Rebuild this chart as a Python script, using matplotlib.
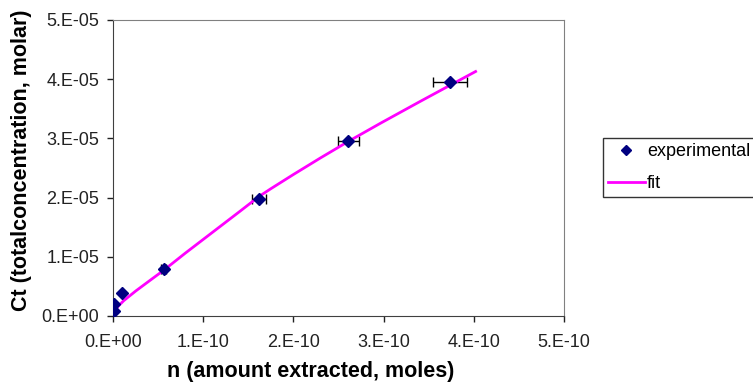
import matplotlib
matplotlib.use("Agg")
import matplotlib.pyplot as plt
import numpy as np

plt.rcParams['font.family'] = ['Liberation Sans', 'DejaVu Sans']

# experimental points
n_exp = [0.01e-10, 0.01e-10, 0.10e-10, 0.56e-10, 1.62e-10, 2.61e-10, 3.74e-10]
ct_exp = [0.08e-5, 0.20e-5, 0.39e-5, 0.79e-5, 1.98e-5, 2.96e-5, 3.95e-5]
n_err = [0, 0, 0, 0.03e-10, 0.08e-10, 0.12e-10, 0.19e-10]

# fitted curve
n_fit = [0, 0.02e-10, 0.06e-10, 0.12e-10, 0.25e-10, 0.40e-10, 0.56e-10, 0.80e-10,
         1.10e-10, 1.40e-10, 1.62e-10, 1.75e-10, 2.00e-10, 2.30e-10, 2.61e-10,
         2.97e-10, 3.40e-10, 3.74e-10, 4.02e-10]
ct_fit = [0, 0.08e-5, 0.17e-5, 0.26e-5, 0.42e-5, 0.59e-5, 0.77e-5, 1.06e-5,
          1.41e-5, 1.76e-5, 2.02e-5, 2.15e-5, 2.39e-5, 2.67e-5, 2.95e-5,
          3.26e-5, 3.62e-5, 3.90e-5, 4.13e-5]

x_ticks = [0, 1e-10, 2e-10, 3e-10, 4e-10, 5e-10]
x_labels = ["0.E+00", "1.E-10", "2.E-10", "3.E-10", "4.E-10", "5.E-10"]
y_ticks = [0, 1e-5, 2e-5, 3e-5, 4e-5, 5e-5]
y_labels = ["0.E+00", "1.E-05", "2.E-05", "3.E-05", "4.E-05", "5.E-05"]

W, H = 753, 382
fig = plt.figure(figsize=(W / 100, H / 100), dpi=100)
ax = fig.add_axes([113 / W, 1 - 316 / H, (564 - 113) / W, (316 - 20) / H])

ax.errorbar(n_exp, ct_exp, xerr=n_err, fmt='none', ecolor='black',
            elinewidth=1, capsize=3.5, capthick=1, zorder=2)
ax.plot(n_fit, ct_fit, color='#FF00FF', lw=2, label='fit', zorder=3)
ax.plot(n_exp, ct_exp, 'D', color='#000080', ms=6, label='experimental', zorder=4)

ax.set_xlim(0, 5e-10)
ax.set_ylim(0, 5e-5)
ax.set_xticks(x_ticks)
ax.set_xticklabels(x_labels)
ax.set_yticks(y_ticks)
ax.set_yticklabels(y_labels)
ax.tick_params(labelsize=13, length=4, width=1, direction='out', colors='#222222')
ax.tick_params(axis='x', pad=9)
ax.tick_params(axis='y', pad=6)

for s in ['top', 'right']:
    ax.spines[s].set_color('#808080')
for s in ['left', 'bottom']:
    ax.spines[s].set_color('#404040')

fig.text(167 / W, 1 - 371 / H, "n (amount extracted, moles)", fontsize=15.5,
         fontweight='bold', ha='left', va='center')
fig.text(22 / W, 1 - 160 / H, "Ct (totalconcentration, molar)", fontsize=15.5,
         fontweight='bold', ha='center', va='center', rotation=90)

handles, labels = ax.get_legend_handles_labels()
leg = fig.legend(handles[::-1], labels[::-1], loc='upper left',
                 bbox_to_anchor=(603 / W, 1 - 138 / H), fontsize=13,
                 frameon=True, fancybox=False, edgecolor='black', markerscale=0.8,
                 handlelength=2.0, borderpad=0.3, labelspacing=0.8, handletextpad=0.15,
                 borderaxespad=0)
leg.get_frame().set_linewidth(1)

fig.savefig("out.png", dpi=100, facecolor='white')
